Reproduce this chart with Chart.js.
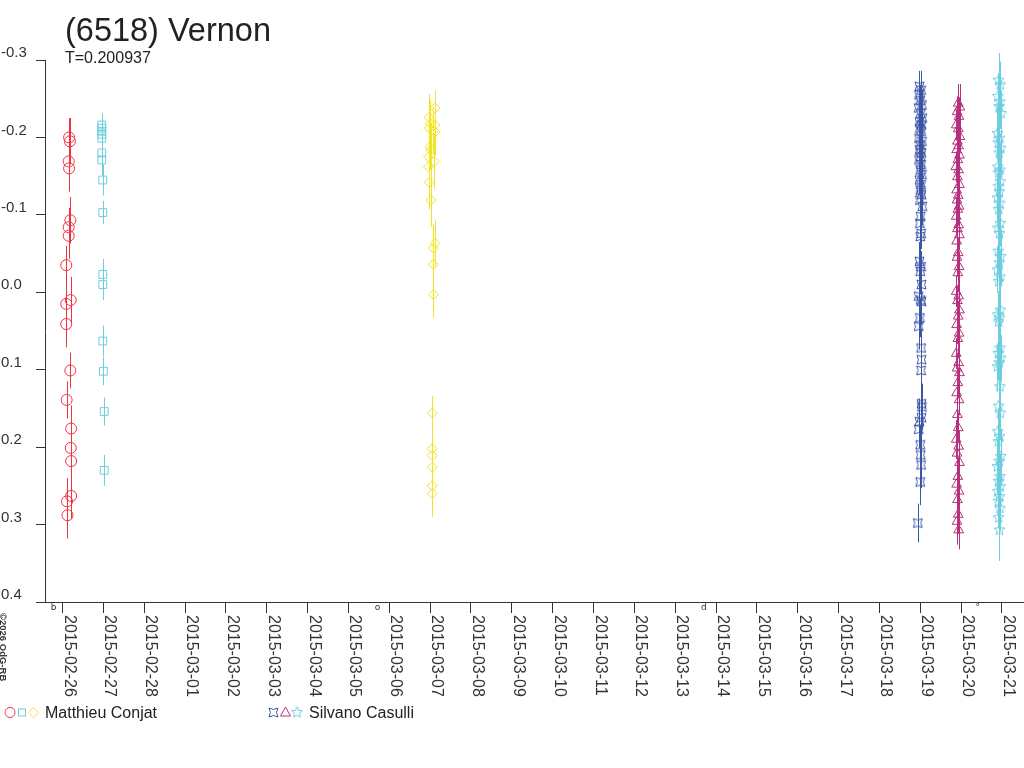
<!DOCTYPE html>
<html>
<head>
<meta charset="utf-8">
<title>(6518) Vernon</title>
<script src="https://cdn.jsdelivr.net/npm/chart.js@4/dist/chart.umd.min.js"></script>
<style>
  body { margin: 0; background: #fff; font-family: "Liberation Sans", Arial, sans-serif; }
  #wrap { position: relative; width: 1024px; height: 768px; overflow: hidden; }
  #wrap canvas { position: absolute; left: 0; top: 0; }
  .txt { position: absolute; color: #222; white-space: nowrap; line-height: normal; }
  #copy { left: 9px; top: 613px; font-size: 9.5px; font-weight: bold; color: #333;
          transform-origin: 0 0; transform: rotate(90deg); }
</style>
</head>
<body>
<div id="wrap">
  <canvas id="chart" width="1024" height="768"></canvas>
  <div class="txt" style="left:65px;top:12px;font-size:32.5px;">(6518) Vernon</div>
  <div class="txt" style="left:65px;top:49px;font-size:16px;">T=0.200937</div>
  <div class="txt" style="left:45px;top:704px;font-size:16px;">Matthieu Conjat</div>
  <div class="txt" style="left:309px;top:704px;font-size:16px;">Silvano Casulli</div>
  <div class="txt" id="copy">©2026 OdG-RB</div>
</div>
<script>
// x = days since 2015-02-26 00:00, y = relative magnitude, e = error
const dateLabels = ['2015-02-26', '2015-02-27', '2015-02-28', '2015-03-01', '2015-03-02',
  '2015-03-03', '2015-03-04', '2015-03-05', '2015-03-06', '2015-03-07', '2015-03-08',
  '2015-03-09', '2015-03-10', '2015-03-11', '2015-03-12', '2015-03-13', '2015-03-14',
  '2015-03-15', '2015-03-16', '2015-03-17', '2015-03-18', '2015-03-19', '2015-03-20',
  '2015-03-21'];
const yTickValues = [-0.3, -0.2, -0.1, 0.0, 0.1, 0.2, 0.3, 0.4];
const yTickLabels = ['-0.3', '-0.2', '-0.1', '0.0', '0.1', '0.2', '0.3', '0.4'];
const xRange = [-0.43, 23.54];

// moon phase marks along the time axis
const moonPhases = [[-0.22, 'b'], [7.71, 'o'], [15.70, 'd'], [22.41, '°']];

// Matthieu Conjat, night 1
const conjat1 = [
  [0.16, -0.200, 0.025], [0.18, -0.195, 0.03], [0.15, -0.169, 0.025], [0.16, -0.160, 0.03],
  [0.19, -0.093, 0.03], [0.15, -0.084, 0.025], [0.15, -0.073, 0.03], [0.09, -0.035, 0.025],
  [0.20, 0.010, 0.03], [0.09, 0.015, 0.03], [0.09, 0.041, 0.03], [0.19, 0.101, 0.023],
  [0.10, 0.139, 0.024], [0.21, 0.176, 0.03], [0.20, 0.201, 0.03], [0.21, 0.218, 0.03],
  [0.21, 0.263, 0.03], [0.11, 0.270, 0.03], [0.12, 0.288, 0.03]
];
// Matthieu Conjat, night 2
const conjat2 = [
  [0.96, -0.216, 0.015], [0.96, -0.212, 0.015], [0.96, -0.208, 0.015], [0.96, -0.204, 0.015],
  [0.96, -0.199, 0.015], [0.96, -0.180, 0.02], [0.96, -0.171, 0.02], [0.985, -0.145, 0.02],
  [0.985, -0.103, 0.015], [0.985, -0.023, 0.02], [0.985, -0.010, 0.02], [0.985, 0.063, 0.02],
  [1.00, 0.102, 0.018], [1.02, 0.154, 0.018], [1.02, 0.230, 0.02]
];
// Matthieu Conjat, night 3
const conjat3 = [
  [9.12, -0.238, 0.023], [8.97, -0.226, 0.03], [9.00, -0.218, 0.03], [9.12, -0.216, 0.03],
  [8.97, -0.212, 0.03], [9.08, -0.209, 0.03], [9.12, -0.207, 0.03], [9.00, -0.188, 0.03],
  [9.02, -0.184, 0.035], [8.96, -0.175, 0.03], [9.10, -0.169, 0.035], [8.96, -0.162, 0.035],
  [8.98, -0.142, 0.035], [9.02, -0.119, 0.035], [9.12, -0.063, 0.03], [9.08, -0.057, 0.03],
  [9.08, -0.036, 0.03], [9.08, 0.003, 0.03], [9.05, 0.156, 0.022], [9.05, 0.202, 0.025],
  [9.05, 0.211, 0.025], [9.05, 0.226, 0.03], [9.05, 0.250, 0.025], [9.05, 0.260, 0.03]
];
// Silvano Casulli, night 1
const casulli1 = [
  [20.98, -0.266, 0.02], [21.02, -0.261, 0.025], [20.97, -0.255, 0.02], [21.00, -0.248, 0.02],
  [21.04, -0.242, 0.02], [20.96, -0.238, 0.025], [21.01, -0.231, 0.02], [21.05, -0.225, 0.02],
  [20.98, -0.220, 0.02], [21.03, -0.216, 0.025], [20.99, -0.212, 0.02], [21.02, -0.208, 0.02],
  [20.97, -0.199, 0.02], [21.04, -0.195, 0.025], [21.00, -0.190, 0.02], [20.98, -0.184, 0.02],
  [21.03, -0.180, 0.02], [21.01, -0.175, 0.025], [20.97, -0.171, 0.02], [21.02, -0.165, 0.02],
  [21.00, -0.158, 0.02], [21.04, -0.152, 0.025], [20.98, -0.145, 0.02], [21.02, -0.139, 0.02],
  [21.00, -0.132, 0.02], [21.03, -0.126, 0.025], [20.99, -0.119, 0.02], [21.05, -0.111, 0.025],
  [21.01, -0.098, 0.02], [20.99, -0.089, 0.025], [21.02, -0.076, 0.02], [21.00, -0.072, 0.025],
  [20.98, -0.040, 0.025], [21.02, -0.033, 0.02], [21.00, -0.027, 0.03], [21.03, -0.010, 0.03],
  [20.96, 0.005, 0.03], [21.01, 0.010, 0.025], [21.03, 0.012, 0.03], [20.99, 0.033, 0.025],
  [20.96, 0.044, 0.03], [21.02, 0.072, 0.025], [21.03, 0.087, 0.025], [21.02, 0.101, 0.025],
  [21.03, 0.144, 0.025], [21.04, 0.148, 0.03], [21.03, 0.162, 0.025], [20.98, 0.167, 0.03],
  [20.96, 0.177, 0.025], [21.00, 0.197, 0.025], [21.01, 0.210, 0.03], [21.02, 0.223, 0.03],
  [21.00, 0.245, 0.03], [20.94, 0.298, 0.025]
];
// Silvano Casulli, night 2
const casulli2 = [
  [21.93, -0.244, 0.025], [21.97, -0.239, 0.03], [21.90, -0.233, 0.02], [21.95, -0.227, 0.025],
  [21.88, -0.216, 0.02], [21.93, -0.211, 0.025], [21.97, -0.201, 0.02], [21.91, -0.195, 0.025],
  [21.94, -0.189, 0.02], [21.89, -0.184, 0.025], [21.96, -0.177, 0.02], [21.92, -0.171, 0.025],
  [21.87, -0.162, 0.02], [21.94, -0.158, 0.025], [21.91, -0.149, 0.02], [21.96, -0.139, 0.025],
  [21.89, -0.132, 0.02], [21.93, -0.125, 0.025], [21.90, -0.119, 0.02], [21.95, -0.111, 0.025],
  [21.92, -0.107, 0.02], [21.88, -0.098, 0.025], [21.94, -0.087, 0.02], [21.91, -0.082, 0.025],
  [21.96, -0.074, 0.02], [21.89, -0.066, 0.025], [21.93, -0.051, 0.02], [21.90, -0.045, 0.025],
  [21.95, -0.033, 0.02], [21.92, -0.025, 0.025], [21.88, -0.001, 0.02], [21.94, 0.005, 0.025],
  [21.91, 0.011, 0.02], [21.96, 0.023, 0.025], [21.93, 0.031, 0.02], [21.89, 0.042, 0.025],
  [21.95, 0.053, 0.02], [21.92, 0.060, 0.025], [21.88, 0.079, 0.02], [21.94, 0.091, 0.025],
  [21.90, 0.098, 0.02], [21.96, 0.104, 0.025], [21.92, 0.117, 0.02], [21.89, 0.130, 0.025],
  [21.95, 0.139, 0.02], [21.91, 0.158, 0.025], [21.93, 0.175, 0.02], [21.88, 0.190, 0.025],
  [21.94, 0.199, 0.02], [21.90, 0.208, 0.025], [21.96, 0.220, 0.02], [21.92, 0.238, 0.025],
  [21.89, 0.248, 0.02], [21.95, 0.257, 0.025], [21.91, 0.268, 0.02], [21.93, 0.287, 0.025],
  [21.90, 0.296, 0.03], [21.94, 0.307, 0.025]
];
// Silvano Casulli, night 3
const casulli3 = [
  [22.92, -0.274, 0.035], [22.96, -0.268, 0.03], [22.90, -0.253, 0.03], [22.95, -0.246, 0.035],
  [22.93, -0.240, 0.03], [22.98, -0.231, 0.03], [22.89, -0.205, 0.035], [22.94, -0.199, 0.03],
  [22.91, -0.193, 0.03], [22.97, -0.186, 0.035], [22.93, -0.180, 0.03], [22.90, -0.162, 0.03],
  [22.95, -0.158, 0.035], [22.92, -0.154, 0.03], [22.96, -0.143, 0.03], [22.91, -0.137, 0.035],
  [22.94, -0.130, 0.03], [22.89, -0.122, 0.03], [22.95, -0.115, 0.035], [22.92, -0.107, 0.03],
  [22.96, -0.089, 0.03], [22.90, -0.083, 0.035], [22.94, -0.076, 0.03], [22.91, -0.053, 0.03],
  [22.97, -0.046, 0.035], [22.93, -0.038, 0.03], [22.89, -0.029, 0.03], [22.95, -0.020, 0.035],
  [22.92, -0.014, 0.03], [22.96, 0.023, 0.035], [22.90, 0.029, 0.03], [22.94, 0.033, 0.035],
  [22.92, 0.038, 0.04], [22.95, 0.072, 0.03], [22.91, 0.079, 0.035], [22.97, 0.085, 0.03],
  [22.93, 0.091, 0.035], [22.89, 0.096, 0.03], [22.95, 0.122, 0.035], [22.92, 0.147, 0.03],
  [22.96, 0.156, 0.035], [22.90, 0.180, 0.03], [22.94, 0.186, 0.035], [22.91, 0.193, 0.03],
  [22.97, 0.212, 0.035], [22.93, 0.218, 0.03], [22.89, 0.225, 0.035], [22.95, 0.238, 0.03],
  [22.92, 0.244, 0.035], [22.96, 0.251, 0.03], [22.90, 0.257, 0.035], [22.94, 0.264, 0.03],
  [22.91, 0.270, 0.035], [22.95, 0.279, 0.03], [22.92, 0.291, 0.035], [22.94, 0.307, 0.04]
];

const colors = {
  red: '#ef3340',
  cyan: '#6ccedf',
  yellow: '#f3e423',
  blue: '#3c56a6',
  magenta: '#b5307e'
};

function concavePath(g, r) {
  g.beginPath();
  g.moveTo(-r, -r);
  g.quadraticCurveTo(0, -r * 0.35, r, -r);
  g.quadraticCurveTo(r * 0.35, 0, r, r);
  g.quadraticCurveTo(0, r * 0.35, -r, r);
  g.quadraticCurveTo(-r * 0.35, 0, -r, -r);
  g.closePath();
}

function starPath(g, r) {
  const inner = r * 0.45;
  g.beginPath();
  for (let k = 0; k < 10; k++) {
    const rad = (k % 2 === 0) ? r : inner;
    const a = -Math.PI / 2 + k * Math.PI / 5;
    const px = Math.cos(a) * rad, py = Math.sin(a) * rad;
    if (k === 0) g.moveTo(px, py); else g.lineTo(px, py);
  }
  g.closePath();
}

function makeSymbol(color, pathFn, r) {
  const c = document.createElement('canvas');
  c.width = 13; c.height = 13;
  const g = c.getContext('2d');
  g.strokeStyle = color;
  g.lineWidth = 1;
  g.translate(6.5, 6.5);
  pathFn(g, r);
  g.stroke();
  return c;
}

const blueSymbol = makeSymbol(colors.blue, concavePath, 4.5);
const starSymbol = makeSymbol(colors.cyan, starPath, 5.8);

function toPoints(arr) {
  return arr.map(([t, m, e]) => ({ x: t, y: m, e: e }));
}

function makeSet(label, arr, color, style, radius) {
  return {
    label: label,
    data: toPoints(arr),
    borderColor: color,
    backgroundColor: 'rgba(0,0,0,0)',
    pointStyle: style,
    pointRadius: radius,
    pointHoverRadius: radius,
    pointBorderWidth: 1,
    showLine: false
  };
}

const errorBars = {
  id: 'errorBars',
  beforeDatasetsDraw(chart) {
    const { ctx, scales: { x, y } } = chart;
    ctx.save();
    ctx.lineWidth = 1;
    chart.data.datasets.forEach(ds => {
      ctx.strokeStyle = ds.borderColor;
      ds.data.forEach(p => {
        const px = Math.round(x.getPixelForValue(p.x)) + 0.5;
        ctx.beginPath();
        ctx.moveTo(px, y.getPixelForValue(p.y - p.e));
        ctx.lineTo(px, y.getPixelForValue(p.y + p.e));
        ctx.stroke();
      });
    });
    ctx.restore();
  }
};

const axisExtras = {
  id: 'axisExtras',
  afterDraw(chart) {
    const { ctx, scales: { x } } = chart;
    const base = chart.chartArea.bottom;
    ctx.save();
    // rotated date labels, reading downwards
    ctx.font = '16px "Liberation Sans", Arial, sans-serif';
    ctx.fillStyle = '#333';
    ctx.textBaseline = 'alphabetic';
    x.ticks.forEach(tk => {
      const px = x.getPixelForValue(tk.value);
      ctx.save();
      ctx.translate(px + 2, base + 13);
      ctx.rotate(Math.PI / 2);
      ctx.fillText(dateLabels[tk.value], 0, 0);
      ctx.restore();
    });
    // moon phase marks
    ctx.font = '9px "DejaVu Sans", sans-serif';
    ctx.textAlign = 'center';
    ctx.textBaseline = 'top';
    moonPhases.forEach(([t, g]) => {
      ctx.fillText(g, x.getPixelForValue(t), base + 1);
    });

    // legend symbols
    ctx.lineWidth = 1;
    const ly = 712.5;
    ctx.strokeStyle = colors.red;
    ctx.beginPath(); ctx.arc(10, ly, 5, 0, Math.PI * 2); ctx.stroke();
    ctx.strokeStyle = colors.cyan;
    ctx.strokeRect(18.5, ly - 3.5, 7, 7);
    ctx.strokeStyle = colors.yellow;
    ctx.beginPath();
    ctx.moveTo(33.5, ly - 5); ctx.lineTo(38.5, ly); ctx.lineTo(33.5, ly + 5); ctx.lineTo(28.5, ly);
    ctx.closePath(); ctx.stroke();
    ctx.drawImage(blueSymbol, 273.5 - 6.5, ly - 6.5);
    ctx.strokeStyle = colors.magenta;
    ctx.beginPath();
    ctx.moveTo(285.5, ly - 5.5); ctx.lineTo(290.5, ly + 3.5); ctx.lineTo(280.5, ly + 3.5);
    ctx.closePath(); ctx.stroke();
    ctx.drawImage(starSymbol, 297 - 6.5, ly - 6.5);
    ctx.restore();
  }
};

new Chart(document.getElementById('chart'), {
  type: 'scatter',
  data: {
    datasets: [
      makeSet('Conjat 1', conjat1, colors.red, 'circle', 5.5),
      makeSet('Conjat 2', conjat2, colors.cyan, 'rect', 5.5),
      makeSet('Conjat 3', conjat3, colors.yellow, 'rectRot', 5),
      makeSet('Casulli 1', casulli1, colors.blue, blueSymbol, 5),
      makeSet('Casulli 2', casulli2, colors.magenta, 'triangle', 5.6),
      makeSet('Casulli 3', casulli3, colors.cyan, starSymbol, 6)
    ]
  },
  options: {
    responsive: false,
    devicePixelRatio: 1,
    animation: false,
    events: [],
    layout: { autoPadding: false, padding: { left: 1, top: 60, right: 0, bottom: 0 } },
    plugins: {
      legend: { display: false },
      tooltip: { enabled: false },
      title: { display: false }
    },
    scales: {
      x: {
        type: 'linear',
        min: xRange[0],
        max: xRange[1],
        afterBuildTicks: s => { s.ticks = dateLabels.map((d, i) => ({ value: i })); },
        afterFit: s => { s.height = 166; s.paddingLeft = 0; s.paddingRight = 0; },
        ticks: { display: false },
        grid: { drawOnChartArea: false, drawTicks: true, tickLength: 11, color: '#333' },
        border: { color: '#333', width: 1 }
      },
      y: {
        type: 'linear',
        reverse: true,
        min: yTickValues[0],
        max: yTickValues[yTickValues.length - 1],
        afterBuildTicks: s => { s.ticks = yTickValues.map(v => ({ value: v })); },
        afterFit: s => { s.width = 44; s.paddingTop = 0; s.paddingBottom = 0; },
        ticks: {
          callback: (v, i) => yTickLabels[i],
          crossAlign: 'far',
          labelOffset: -7,
          color: '#333',
          font: { family: '"Liberation Sans", Arial, sans-serif', size: 15 }
        },
        grid: { drawOnChartArea: false, drawTicks: true, tickLength: 9, color: '#333' },
        border: { color: '#333', width: 1 }
      }
    }
  },
  plugins: [errorBars, axisExtras]
});
</script>
</body>
</html>
